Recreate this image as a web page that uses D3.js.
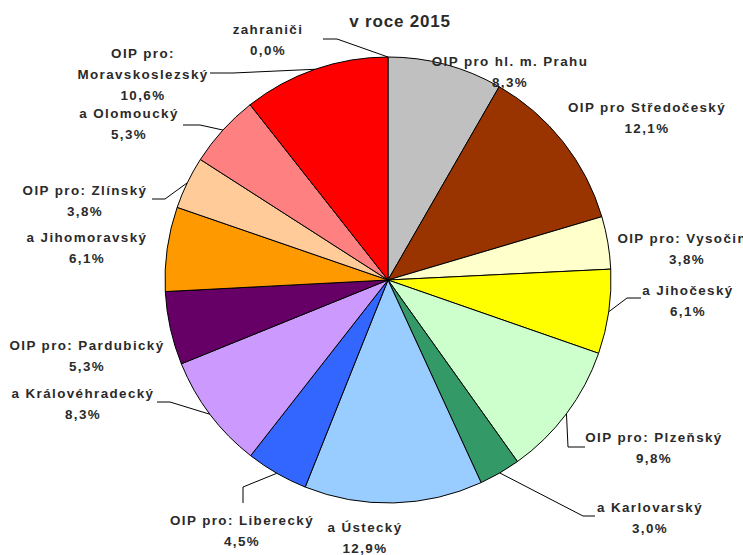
<!DOCTYPE html>
<html>
<head>
<meta charset="utf-8">
<script src="https://cdn.jsdelivr.net/npm/d3@7"></script>
<style>
  html, body { margin: 0; padding: 0; background: #fff; overflow: hidden; }
  svg { display: block; }
  text { font-family: "Liberation Sans", Arial, sans-serif; font-weight: bold; fill: #2a2a2a; }
</style>
</head>
<body>
<script>
// ---- data ----
const title = "v roce 2015";
const categories = [
  "zahraniči",
  "OIP pro hl. m. Prahu",
  "OIP pro Středočeský",
  "OIP pro: Vysočinu",
  "a Jihočeský",
  "OIP pro: Plzeňský",
  "a Karlovarský",
  "a Ústecký",
  "OIP pro: Liberecký",
  "a Královéhradecký",
  "OIP pro: Pardubický",
  "a Jihomoravský",
  "OIP pro: Zlínský",
  "a Olomoucký",
  "OIP pro:\nMoravskoslezský"
];
const values = [0.0, 8.3, 12.1, 3.8, 6.1, 9.8, 3.0, 12.9, 4.5, 8.3, 5.3, 6.1, 3.8, 5.3, 10.6];
const colors = [
  "#ffffff", "#c0c0c0", "#993300", "#ffffcc", "#ffff00", "#ccffcc", "#339966",
  "#99ccff", "#3366ff", "#cc99ff", "#660066", "#ff9900", "#ffcc99", "#ff8080", "#ff0000"
];

// ---- layout (label centres / first baselines, leader bends) ----
const labelPos = [
  [268, 34], [510, 66], [647, 112], [687, 243], [688, 295], [654, 442], [650, 512],
  [365, 532], [242, 525], [83, 398], [87, 350], [87, 242], [85, 195], [129, 118], [143, 58]
];
const leaders = {
  0: [[337, 39], [323, 39]],
  4: [[627, 298], [641, 298]],
  5: [[568, 447], [585, 447]],
  6: [[583, 516], [595, 516]],
  8: [[243, 487], [243, 503]],
  9: [[170, 402], [157, 402]],
  12: [[165, 199], [152, 199]],
  13: [[200, 125], [183, 125]],
  14: [[233, 73], [210, 73]]
};

const W = 743, H = 555;
const cx = 388, cy = 280, R = 223;

const svg = d3.select("body").append("svg").attr("width", W).attr("height", H);

svg.append("text")
  .attr("x", 400).attr("y", 27)
  .attr("text-anchor", "middle")
  .style("font-size", "17px")
  .style("letter-spacing", "0.8px")
  .text(title);

const data = categories.map((c, i) => ({ name: c, value: values[i], color: colors[i], i }));
const pie = d3.pie().sort(null).value(d => d.value);
const arcs = pie(data);
const arc = d3.arc().innerRadius(0).outerRadius(R);

const g = svg.append("g").attr("transform", `translate(${cx},${cy})`);
g.selectAll("path.slice")
  .data(arcs.filter(a => a.data.value > 0))
  .join("path")
  .attr("class", "slice")
  .attr("d", arc)
  .attr("fill", d => d.data.color)
  .attr("stroke", "#000")
  .attr("stroke-width", 1)
  .attr("stroke-linejoin", "round");

// leader lines
const fmt = v => d3.format(".1f")(v).replace(".", ",") + "%";
arcs.forEach((a, i) => {
  if (!leaders[i]) return;
  const mid = (a.startAngle + a.endAngle) / 2;
  const sx = cx + R * Math.sin(mid), sy = cy - R * Math.cos(mid);
  const pts = [[sx, sy]].concat(leaders[i]);
  svg.append("path")
    .attr("d", d3.line()(pts))
    .attr("fill", "none")
    .attr("stroke", "#000")
    .attr("stroke-width", 1);
});

// labels
arcs.forEach((a, i) => {
  const lines = a.data.name.split("\n").concat([fmt(a.data.value)]);
  const t = svg.append("text")
    .attr("text-anchor", "middle")
    .style("font-size", "13.4px")
    .style("letter-spacing", "1.4px");
  lines.forEach((ln, k) => {
    t.append("tspan")
      .attr("x", labelPos[i][0])
      .attr("y", labelPos[i][1] + k * 21)
      .text(ln);
  });
});
</script>
</body>
</html>
